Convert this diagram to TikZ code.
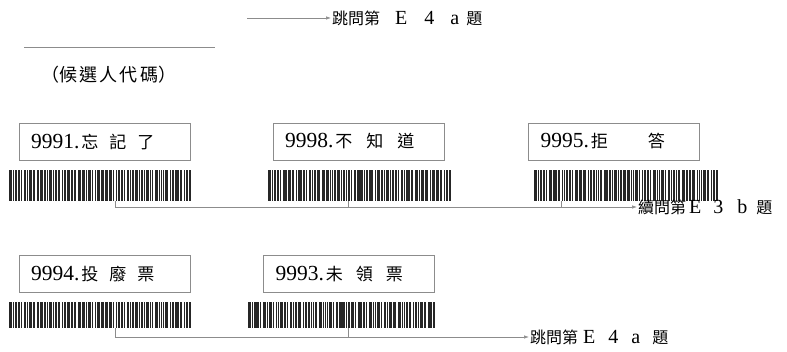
\documentclass[tikz,border=0pt]{standalone}
\usepackage{fontspec}
\setmainfont{Liberation Serif}
\newfontfamily\cjk{Noto Sans CJK TC}
\usetikzlibrary{arrows.meta}
\definecolor{lineg}{gray}{0.55}
\newcommand\zh[1]{{\cjk\fontsize{17}{20}\selectfont #1}}
\newcommand\zl[1]{{\cjk\fontsize{16}{19}\selectfont #1}}
\newcommand\barpattern{3/1,1/1,3/1,2/1,1/2,3/1,1/1,3/1,2/2,1/1,1/1,3/1,2/1,1/2,3/1,1/1,
  2/1,3/2,1/1,2/1,3/1,1/1,1/1,2/2,3/1,1/1,2/1,1/1,3/1,1/2,2/1,3/1,
  3/1,1/1,2/1,3/1,1/2,1/1,3/1,2/1,1/2,3/1,1/1,2/1,3/1,1/2,2/1,1/1,
  3/1,1/1,2/2,3/1,1/1,1/1,2/1,3/2,1/1,2/1,1/1,3/1,2/2,1/1,3/1,2/1}
% barcode: name, left, top, width, height
\newcommand\barcode[5]{%
  \node[bcbox, minimum width=#4pt, minimum height=#5pt] (#1) at (#2,#3) {};
  \pgfmathsetmacro\bcu{#4/199}
  \xdef\bcx{#2}
  \foreach \b/\g in \barpattern {
    \fill[bar] (\bcx,#3) rectangle ++(\b*\bcu,#5);
    \pgfmathsetmacro\bcnext{\bcx+(\b+\g)*\bcu}
    \xdef\bcx{\bcnext}
  }%
}
\tikzset{
  choice/.style={rectangle, draw=lineg, line width=0.7pt, minimum width=171pt,
                 minimum height=37pt, text width=147pt, align=left, inner xsep=12pt,
                 inner ysep=0pt, font=\fontsize{21.5}{24}\selectfont},
  bcbox/.style={rectangle, inner sep=0pt, anchor=north west},
  bar/.style={fill=black!85},
  skip/.style={font=\fontsize{20}{22}\selectfont, anchor=west, inner sep=1pt},
  link/.style={line width=0.7pt, draw=lineg},
  arr/.style={-{Latex[length=5pt,width=3.5pt]}, line width=0.7pt, draw=lineg},
}
\begin{document}
\begin{tikzpicture}[x=1pt, y=-1pt]
  \useasboundingbox (0,0) rectangle (787,352);
  % head
  \coordinate (top0) at (247,18);
  \node[skip] (go4a) at (331,18)
    {\zl{跳問第}\hspace{15pt}E\hspace{17pt}4\hspace{16pt}a\hspace{7pt}\zl{題}};
  \draw[arr] (top0) -- (go4a.west);
  \draw[link] (24,47) -- (215,47);
  \node[font=\fontsize{18}{22}\selectfont] (cand) at (109,75)
    {{\cjk （\hspace{1pt}候\hspace{2pt}選\hspace{2pt}人\hspace{2pt}代\hspace{2pt}碼\hspace{1pt}）}};
  % first row
  \node[choice] (b1) at (104.5,141.5) {9991.\hspace{2pt}\zh{忘\hspace{11pt}記\hspace{11pt}了}};
  \node[choice] (b2) at (358.5,141.5) {9998.\hspace{2pt}\zh{不\hspace{14pt}知\hspace{14pt}道}};
  \node[choice] (b3) at (614,141.5) {9995.\hspace{2pt}\zh{拒\hspace{40pt}答}};
  \barcode{bc1}{9}{170}{183}{31}
  \barcode{bc2}{268}{170}{184}{31}
  \barcode{bc3}{534}{170}{185}{31}
  \coordinate (k1) at (115,207);
  \coordinate (k2) at (348,207);
  \coordinate (k3) at (561,207);
  \node[skip] (go3b) at (637,207)
    {\zl{續問第}\hspace{3pt}E\hspace{12pt}3\hspace{14pt}b\hspace{9pt}\zl{題}};
  \draw[link] (bc1.south -| k1) -- (k1);
  \draw[link] (bc2.south -| k2) -- (k2);
  \draw[link] (bc3.south -| k3) -- (k3);
  \draw[arr] (k1) -- (go3b.west);
  % second row
  \node[choice] (b4) at (104.5,274) {9994.\hspace{2pt}\zh{投\hspace{11pt}廢\hspace{11pt}票}};
  \node[choice] (b5) at (349,274) {9993.\hspace{2pt}\zh{未\hspace{13pt}領\hspace{13pt}票}};
  \barcode{bc4}{9}{302}{183}{26}
  \barcode{bc5}{248}{302}{188}{26}
  \coordinate (k4) at (115,337);
  \coordinate (k5) at (348,337);
  \node[skip] (go4b) at (529,337)
    {\zl{跳問第}\hspace{5pt}E\hspace{13pt}4\hspace{13pt}a\hspace{12pt}\zl{題}};
  \draw[link] (bc4.south -| k4) -- (k4);
  \draw[link] (bc5.south -| k5) -- (k5);
  \draw[arr] (k4) -- (go4b.west);
\end{tikzpicture}
\end{document}
